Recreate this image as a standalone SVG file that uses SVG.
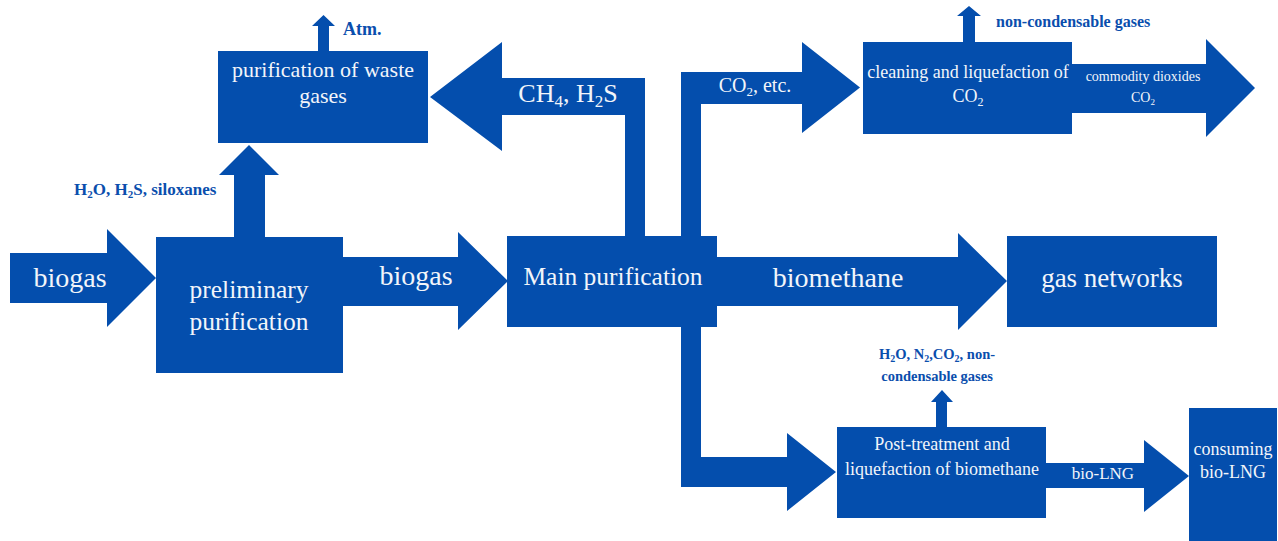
<svg xmlns="http://www.w3.org/2000/svg" width="1278" height="541" viewBox="0 0 1278 541">
<style>
.s{fill:#044EAD}
.t{fill:#F2F5FA;font-family:"Liberation Serif","Times New Roman",serif;text-anchor:middle}
.l{fill:#0A4EAD;font-family:"Liberation Serif","Times New Roman",serif;font-weight:bold}
</style>
<rect width="1278" height="541" fill="#fff"/>
<g id="connectors">
<polygon class="s" points="10,253 107,253 107,229 156,278 107,327 107,303 10,303"/>
<text class="t" x="70" y="287" font-size="28">biogas</text>
<polygon class="s" points="234,238 234,175 219,175 249,145 279,175 265,175 265,238"/>
<text class="l" x="74" y="195" font-size="17">H<tspan font-size="11" dy="3">2</tspan><tspan dy="-3">O, H</tspan><tspan font-size="11" dy="3">2</tspan><tspan dy="-3">S, siloxanes</tspan></text>
<polygon class="s" points="318,52 318,26 312,26 323.5,15 335,26 329,26 329,52"/>
<text class="l" x="343" y="35" font-size="18">Atm.</text>
<polygon class="s" points="343,257 458,257 458,232 508,281 458,330 458,306 343,306"/>
<text class="t" x="416" y="285" font-size="28">biogas</text>
<polygon class="s" points="625,237 625,115 502,115 502,151 430,97 502,42 502,78 645,78 645,237"/>
<text class="t" x="568" y="102" font-size="26">CH<tspan font-size="17" dy="5">4</tspan><tspan dy="-5">, H</tspan><tspan font-size="17" dy="5">2</tspan><tspan dy="-5">S</tspan></text>
<polygon class="s" points="681,237 681,72 802,72 802,42 860,87.5 802,133 802,104 701,104 701,237"/>
<text class="t" x="755" y="92" font-size="20">CO<tspan font-size="13" dy="4">2</tspan><tspan dy="-4">, etc.</tspan></text>
<polygon class="s" points="963,43 963,16 957,16 969,6 981,16 975,16 975,43"/>
<text class="l" x="996" y="27" font-size="16">non-condensable gases</text>
<polygon class="s" points="1071,64 1206,64 1206,39 1255,88 1206,137 1206,113 1071,113"/>
<text class="t" x="1143" y="81" font-size="14">commodity dioxides</text>
<text class="t" x="1143" y="102" font-size="14">CO<tspan font-size="9" dy="3">2</tspan></text>
<polygon class="s" points="716,257 958,257 958,233 1007,281 958,330 958,306 716,306"/>
<text class="t" x="838" y="287" font-size="28">biomethane</text>
<polygon class="s" points="681,326 681,487 787,487 787,511 836,472 787,433 787,457 701,457 701,326"/>
<polygon class="s" points="936,428 936,402 931,402 942,390 953,402 947,402 947,428"/>
<text class="l" x="937" y="359" font-size="14.5" text-anchor="middle">H<tspan font-size="10" dy="3">2</tspan><tspan dy="-3">O, N</tspan><tspan font-size="10" dy="3">2</tspan><tspan dy="-3">,CO</tspan><tspan font-size="10" dy="3">2</tspan><tspan dy="-3">, non-</tspan></text>
<text class="l" x="937" y="381" font-size="14.5" text-anchor="middle">condensable gases</text>
<polygon class="s" points="1045,463 1144,463 1144,440 1189,476 1144,512 1144,488 1045,488"/>
<text class="t" x="1103" y="479" font-size="17">bio-LNG</text>
</g>
<g id="preliminary">
<rect class="s" x="156" y="237" width="187" height="136"/>
<text class="t" x="249" y="298" font-size="25.5">preliminary</text>
<text class="t" x="249" y="330" font-size="25.5">purification</text>
</g>
<g id="waste">
<rect class="s" x="218" y="51" width="210" height="92"/>
<text class="t" x="323" y="77" font-size="22">purification of waste</text>
<text class="t" x="323" y="103" font-size="22">gases</text>
</g>
<g id="main">
<rect class="s" x="507" y="236" width="210" height="91"/>
<text class="t" x="613" y="285" font-size="25.5">Main purification</text>
</g>
<g id="cleaning">
<rect class="s" x="863" y="42" width="209" height="92"/>
<text class="t" x="968" y="78" font-size="18">cleaning and liquefaction of</text>
<text class="t" x="968" y="102" font-size="18">CO<tspan font-size="12" dy="4">2</tspan></text>
</g>
<g id="gasnetworks">
<rect class="s" x="1007" y="236" width="210" height="91"/>
<text class="t" x="1112" y="287" font-size="27">gas networks</text>
</g>
<g id="posttreatment">
<rect class="s" x="837" y="427" width="209" height="91"/>
<text class="t" x="942" y="450" font-size="18">Post-treatment and</text>
<text class="t" x="942" y="475" font-size="18">liquefaction of biomethane</text>
</g>
<g id="consuming">
<rect class="s" x="1189" y="408" width="88" height="140"/>
<text class="t" x="1233" y="455" font-size="18">consuming</text>
<text class="t" x="1233" y="478" font-size="18">bio-LNG</text>
</g>
</svg>
